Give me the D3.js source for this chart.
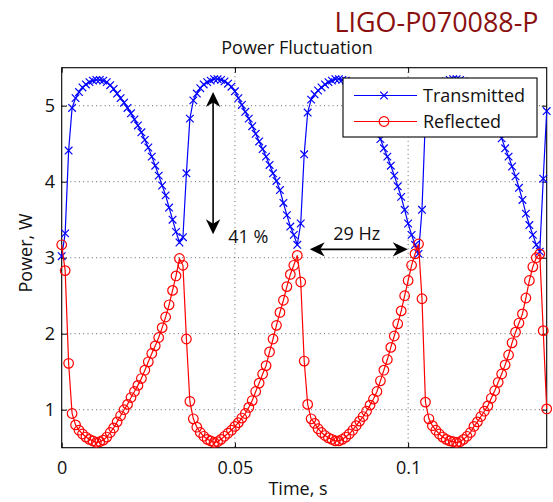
<!DOCTYPE html>
<html>
<head>
<meta charset="utf-8">
<script src="https://cdn.jsdelivr.net/npm/d3@7"></script>
<style>
  html, body { margin: 0; padding: 0; background: #fff; }
  svg { display: block; }
  text { font-family: "Open Sans", "DejaVu Sans", sans-serif; }
</style>
</head>
<body>
<svg id="chart" width="553" height="502"></svg>
<script>
// ---------------- DATA ----------------
const timeS = [0,0.001,0.002,0.003,0.004,0.005,0.006,0.007,0.008,0.009,
0.010,0.011,0.012,0.013,0.014,0.015,0.016,0.017,0.018,0.019,
0.020,0.021,0.022,0.023,0.024,0.025,0.026,0.027,0.028,0.029,
0.030,0.031,0.032,0.033,0.034,0.035,0.036,0.037,0.038,0.039,
0.040,0.041,0.042,0.043,0.044,0.045,0.046,0.047,0.048,0.049,
0.050,0.051,0.052,0.053,0.054,0.055,0.056,0.057,0.058,0.059,
0.060,0.061,0.062,0.063,0.064,0.065,0.066,0.067,0.068,0.069,
0.070,0.071,0.072,0.073,0.074,0.075,0.076,0.077,0.078,0.079,
0.080,0.081,0.082,0.083,0.084,0.085,0.086,0.087,0.088,0.089,
0.090,0.091,0.092,0.093,0.094,0.095,0.096,0.097,0.098,0.099,
0.100,0.101,0.102,0.103,0.104,0.105,0.106,0.107,0.108,0.109,
0.110,0.111,0.112,0.113,0.114,0.115,0.116,0.117,0.118,0.119,
0.120,0.121,0.122,0.123,0.124,0.125,0.126,0.127,0.128,0.129,
0.130,0.131,0.132,0.133,0.134,0.135,0.136,0.137,0.138,0.139,0.140];

const transmitted = [3.02,3.32,4.41,4.97,5.10,5.18,5.24,5.28,5.31,5.33,
5.34,5.34,5.33,5.31,5.27,5.22,5.16,5.10,5.04,4.97,
4.90,4.82,4.74,4.65,4.55,4.45,4.33,4.21,4.08,3.95,
3.82,3.66,3.50,3.34,3.20,3.27,4.11,4.83,5.07,5.16,
5.23,5.28,5.31,5.33,5.35,5.35,5.34,5.32,5.29,5.25,
5.19,5.10,5.01,4.92,4.83,4.73,4.63,4.53,4.43,4.33,
4.22,4.11,4.01,3.89,3.72,3.56,3.41,3.30,3.17,3.45,
4.36,4.91,5.08,5.15,5.20,5.24,5.28,5.31,5.33,5.35,
5.35,5.34,5.33,5.30,5.27,5.23,5.17,5.10,5.02,4.93,
4.83,4.70,4.56,4.44,4.33,4.21,4.08,3.94,3.80,3.63,
3.45,3.30,3.17,3.05,3.63,4.85,5.04,5.14,5.21,5.26,
5.30,5.32,5.34,5.35,5.35,5.34,5.32,5.29,5.25,5.20,
5.14,5.07,5.00,4.92,4.84,4.76,4.67,4.57,4.44,4.33,
4.20,4.07,3.92,3.76,3.58,3.43,3.30,3.17,3.08,4.04,4.93];

const reflected = [3.17,2.83,1.61,0.95,0.80,0.73,0.68,0.64,0.61,0.59,
0.57,0.58,0.60,0.64,0.70,0.76,0.84,0.92,1.00,1.07,
1.16,1.24,1.32,1.41,1.52,1.63,1.74,1.84,1.95,2.08,
2.22,2.38,2.57,2.76,2.99,2.90,1.93,1.11,0.88,0.77,
0.70,0.65,0.61,0.59,0.57,0.58,0.61,0.65,0.69,0.73,
0.78,0.83,0.89,0.95,1.03,1.12,1.24,1.35,1.47,1.58,
1.76,1.93,2.11,2.28,2.44,2.62,2.78,2.90,3.03,2.68,
1.64,1.07,0.88,0.82,0.75,0.70,0.66,0.63,0.61,0.59,
0.59,0.61,0.64,0.68,0.73,0.79,0.85,0.91,0.98,1.06,
1.14,1.24,1.38,1.52,1.66,1.82,1.97,2.13,2.30,2.50,
2.70,2.90,3.05,3.18,2.46,1.10,0.88,0.79,0.73,0.68,
0.64,0.61,0.59,0.58,0.57,0.58,0.61,0.65,0.70,0.78,
0.84,0.91,0.98,1.05,1.15,1.25,1.36,1.47,1.59,1.72,
1.88,2.02,2.14,2.26,2.47,2.70,2.88,3.00,3.05,2.04,1.01];

const xTicks = [0, 0.05, 0.1];
const xTickLabels = ["0", "0.05", "0.1"];
const yTicks = [1, 2, 3, 4, 5];
const yTickLabels = ["1", "2", "3", "4", "5"];
const seriesNames = ["Transmitted", "Reflected"];
const titleText = "Power Fluctuation";
const docId = "LIGO-P070088-P";
const xLabel = "Time, s";
const yLabel = "Power, W";
// annotations in data units
const ampArrow = { t: 0.0437, from: 5.18, to: 3.31, label: "41 %", lt: 0.0481, lv: 3.19 };
const freqArrow = { v: 3.11, from: 0.0716, to: 0.0999, label: "29 Hz", lt: 0.0784, lv: 3.23 };

// ---------------- LAYOUT ----------------
const svg = d3.select("#chart");
const L = 61.7, R = 546.7, T = 67.7, B = 447.7;
const x = d3.scaleLinear().domain([0, 0.14]).range([L, R]);
const y = d3.scaleLinear().domain([0.5, 5.5]).range([B, T]);

const blue = "#0000ff", red = "#ff0000";

// grid
const grid = svg.append("g");
grid.selectAll("line.gx").data(xTicks.filter(d => d > 0)).enter().append("line")
  .attr("x1", d => x(d)).attr("x2", d => x(d)).attr("y1", T).attr("y2", B)
  .attr("stroke", "#666").attr("stroke-width", 1).attr("stroke-dasharray", "1,3.3");
grid.selectAll("line.gy").data(yTicks).enter().append("line")
  .attr("x1", L).attr("x2", R).attr("y1", d => y(d)).attr("y2", d => y(d))
  .attr("stroke", "#666").attr("stroke-width", 1).attr("stroke-dasharray", "1,3.3");

// axes
const fmtX = d => xTickLabels[xTicks.indexOf(d)];
const fmtY = d => yTickLabels[yTicks.indexOf(d)];
const axB = svg.append("g").attr("transform", `translate(0,${B})`)
  .call(d3.axisBottom(x).tickValues(xTicks).tickFormat(fmtX).tickSize(-5).tickSizeOuter(0).tickPadding(13.5));
const axT = svg.append("g").attr("transform", `translate(0,${T})`)
  .call(d3.axisTop(x).tickValues(xTicks).tickFormat("").tickSize(-5).tickSizeOuter(0));
const axLft = svg.append("g").attr("transform", `translate(${L},0)`)
  .call(d3.axisLeft(y).tickValues(yTicks).tickFormat(fmtY).tickSize(-5).tickSizeOuter(0).tickPadding(6.7));
const axRgt = svg.append("g").attr("transform", `translate(${R},0)`)
  .call(d3.axisRight(y).tickValues(yTicks).tickFormat("").tickSize(-5).tickSizeOuter(0));
[axB, axT, axLft, axRgt].forEach(a => {
  a.select(".domain").remove();
  a.selectAll(".tick line").attr("stroke", "#000").attr("stroke-width", 1);
  a.selectAll("text").attr("font-family", "Open Sans").attr("font-size", 18).attr("fill", "#111");
});

// box
svg.append("rect").attr("x", L).attr("y", T).attr("width", R - L).attr("height", B - T)
  .attr("fill", "none").attr("stroke", "#000").attr("stroke-width", 1.1);

// series
const tData = timeS.map((t, i) => [t, transmitted[i]]);
const rData = timeS.map((t, i) => [t, reflected[i]]);
const line = d3.line().x(d => x(d[0])).y(d => y(d[1]));
const xMark = "M-3.8,-3.8L3.8,3.8M-3.8,3.8L3.8,-3.8";

const gT = svg.append("g");
gT.append("path").attr("d", line(tData)).attr("fill", "none").attr("stroke", blue).attr("stroke-width", 1.2);
gT.selectAll("path.m").data(tData).enter().append("path").attr("class", "m")
  .attr("d", xMark).attr("transform", d => `translate(${x(d[0])},${y(d[1])})`)
  .attr("stroke", blue).attr("stroke-width", 1.2).attr("fill", "none");

const gR = svg.append("g");
gR.append("path").attr("d", line(rData)).attr("fill", "none").attr("stroke", red).attr("stroke-width", 1.2);
gR.selectAll("circle").data(rData).enter().append("circle")
  .attr("cx", d => x(d[0])).attr("cy", d => y(d[1])).attr("r", 4.8)
  .attr("fill", "none").attr("stroke", red).attr("stroke-width", 1.2);

// arrows
function head(px, py, angle) {
  const len = 15, half = 7.2, back = 10.5;
  const pts = [[0,0],[-len,-half],[-back,0],[-len,half]];
  const ca = Math.cos(angle), sa = Math.sin(angle);
  const tp = pts.map(([a,b]) => [px + a*ca - b*sa, py + a*sa + b*ca]);
  return `M${tp[0][0]},${tp[0][1]}L${tp[1][0]},${tp[1][1]}L${tp[2][0]},${tp[2][1]}L${tp[3][0]},${tp[3][1]}Z`;
}
const ga = svg.append("g");
{
  const ax = x(ampArrow.t), y1 = y(ampArrow.from), y2 = y(ampArrow.to);
  ga.append("line").attr("x1", ax).attr("x2", ax).attr("y1", y1 + 8).attr("y2", y2 - 8)
    .attr("stroke", "#000").attr("stroke-width", 1.6);
  ga.append("path").attr("d", head(ax, y1, -Math.PI/2)).attr("fill", "#000");
  ga.append("path").attr("d", head(ax, y2, Math.PI/2)).attr("fill", "#000");
  ga.append("text").attr("x", x(ampArrow.lt)).attr("y", y(ampArrow.lv))
    .attr("font-size", 18).attr("fill", "#111").text(ampArrow.label);

  const fy = y(freqArrow.v), x1 = x(freqArrow.from), x2 = x(freqArrow.to);
  ga.append("line").attr("x1", x1 + 8).attr("x2", x2 - 8).attr("y1", fy).attr("y2", fy)
    .attr("stroke", "#000").attr("stroke-width", 1.6);
  ga.append("path").attr("d", head(x1, fy, Math.PI)).attr("fill", "#000");
  ga.append("path").attr("d", head(x2, fy, 0)).attr("fill", "#000");
  ga.append("text").attr("x", x(freqArrow.lt)).attr("y", y(freqArrow.lv))
    .attr("font-size", 18).attr("fill", "#111").text(freqArrow.label);
}

// legend
const lg = svg.append("g").attr("transform", "translate(343,78)");
lg.append("rect").attr("width", 194).attr("height", 59).attr("fill", "#fff")
  .attr("stroke", "#000").attr("stroke-width", 1.1);
const rows = [{name: seriesNames[0], color: blue, dy: 17.5}, {name: seriesNames[1], color: red, dy: 43.5}];
rows.forEach((r, i) => {
  lg.append("line").attr("x1", 11).attr("x2", 74).attr("y1", r.dy).attr("y2", r.dy)
    .attr("stroke", r.color).attr("stroke-width", 1.2);
  if (i === 0) {
    lg.append("path").attr("d", xMark).attr("transform", `translate(41,${r.dy})`)
      .attr("stroke", r.color).attr("stroke-width", 1.2).attr("fill", "none");
  } else {
    lg.append("circle").attr("cx", 41).attr("cy", r.dy).attr("r", 4.8)
      .attr("stroke", r.color).attr("stroke-width", 1.2).attr("fill", "none");
  }
  lg.append("text").attr("x", 80).attr("y", r.dy).attr("dy", "0.35em")
    .attr("font-size", 18).attr("fill", "#111").text(r.name);
});

// titles
svg.append("text").attr("x", 297).attr("y", 54).attr("text-anchor", "middle")
  .attr("font-size", 18).attr("fill", "#111").text(titleText);
svg.append("text").attr("x", 334.5).attr("y", 32)
  .attr("font-family", "Liberation Sans, Arial, sans-serif").attr("font-size", 27)
  .attr("textLength", 204).attr("lengthAdjust", "spacingAndGlyphs")
  .attr("fill", "#8b1010").text(docId);
svg.append("text").attr("x", 298).attr("y", 495).attr("text-anchor", "middle")
  .attr("font-size", 18).attr("fill", "#111").text(xLabel);
svg.append("text").attr("transform", "translate(32,253) rotate(-90)").attr("text-anchor", "middle")
  .attr("font-size", 18).attr("fill", "#111").text(yLabel);
</script>
</body>
</html>
